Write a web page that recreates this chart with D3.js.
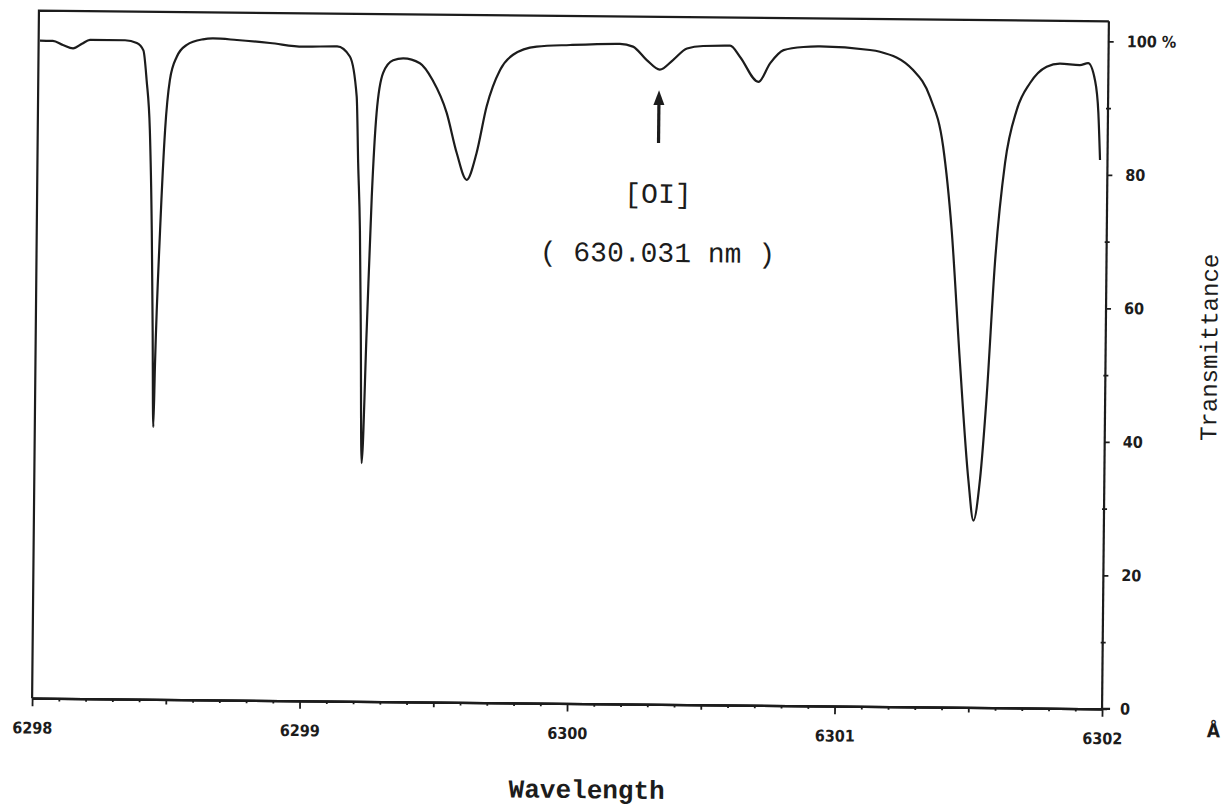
<!DOCTYPE html>
<html>
<head>
<meta charset="utf-8">
<script src="https://cdn.jsdelivr.net/npm/d3@7/dist/d3.min.js"></script>
<style>
  html, body { margin: 0; padding: 0; background: #fff; }
  svg { display: block; }
</style>
</head>
<body>
<script>
// ---- data ----
const wavelength = [
  6298.005, 6298.053, 6298.091, 6298.129, 6298.162, 6298.192, 6298.323, 6298.367, 6298.392, 6298.405,
  6298.419, 6298.430, 6298.437, 6298.443, 6298.447, 6298.461, 6298.476, 6298.492, 6298.517, 6298.554,
  6298.614, 6298.652, 6298.741, 6298.865, 6298.989, 6299.116, 6299.164, 6299.191, 6299.199, 6299.208,
  6299.215, 6299.223, 6299.237, 6299.251, 6299.266, 6299.289, 6299.326, 6299.364, 6299.426, 6299.474,
  6299.528, 6299.567, 6299.605, 6299.641, 6299.677, 6299.726, 6299.774, 6299.862, 6299.987, 6300.173,
  6300.222, 6300.274, 6300.323, 6300.372, 6300.424, 6300.484, 6300.585, 6300.622, 6300.692, 6300.735,
  6300.785, 6300.859, 6300.921, 6301.108, 6301.145, 6301.270, 6301.334, 6301.385, 6301.420, 6301.456,
  6301.492, 6301.512, 6301.535, 6301.557, 6301.583, 6301.617, 6301.659, 6301.707, 6301.769, 6301.819,
  6301.893, 6301.924, 6301.950, 6301.964, 6301.972
];
const transmittance = [
  98.5, 98.5, 97.9, 97.4, 98.1, 98.7, 98.7, 98.3, 97.2, 92.8,
  85.3, 70.2, 55.2, 40.8, 50.3, 70.3, 85.3, 92.8, 96.3, 98.1,
  98.95, 99.1, 98.9, 98.5, 98.0, 98.1, 96.6, 90.6, 80.6, 70.6,
  55.6, 35.7, 55.6, 75.6, 88.2, 94.2, 96.1, 96.4, 95.7, 93.2,
  88.3, 82.3, 78.3, 82.3, 89.3, 94.8, 97.1, 98.35, 98.65, 98.9,
  98.5, 96.5, 95.1, 96.55, 98.3, 98.7, 98.8, 97.15, 93.4, 96.2,
  98.2, 98.7, 98.8, 98.35, 98.1, 95.4, 91.4, 84.0, 71.5, 51.6,
  34.0, 28.0, 34.1, 46.6, 66.6, 81.6, 89.6, 93.6, 96.1, 96.6,
  96.4, 96.7, 94.2, 89.3, 82.2
];
const xMajorTicks = [6298, 6299, 6300, 6301, 6302];
const xTickLabels = ["6298", "6299", "6300", "6301", "6302"];
const yMajorTicks = [0, 20, 40, 60, 80, 100];
const yTickLabels = ["0", "20", "40", "60", "80", "100 %"];
const yMinorTicks = [10, 30, 50, 70, 90];
const lineLabel = "[OI]";
const lineSubLabel = "( 630.031 nm )";
const lineWavelength = 6300.321;
const arrowTip = 92.0, arrowHeadBase = 89.8, arrowTail = 84.1;

// ---- layout ----
const W = 1225, H = 809;
const L = 35.5, R = 1105.5, T = 16, B = 703.5;
const ink = "#1c1c1c";

const svg = d3.select("body").append("svg").attr("width", W).attr("height", H);
const g = svg.append("g").attr("transform", "rotate(0.57,571,359.5)");

const x = d3.scaleLinear().domain([6298, 6302]).range([L, R]);
const y = d3.scaleLinear().domain([0, 100]).range([B, 36]);

// frame: top and left borders
g.append("path")
  .attr("d", `M${L},${B} L${L},${T} L${R},${T}`)
  .attr("fill", "none").attr("stroke", ink).attr("stroke-width", 2.2);

// x axis (bottom)
const xMinor = d3.range(0, 41).map(i => 6298 + i * 0.1).filter(v => Math.abs(v - Math.round(v)) > 1e-6);
const xMid = xMinor.filter(v => Math.abs((v * 10) % 10 - 5) < 1e-3);
const xSmall = xMinor.filter(v => !xMid.includes(v));

const axB = g.append("g").attr("transform", `translate(0,${B})`);
axB.append("g").call(d3.axisBottom(x).tickValues(xSmall).tickSize(3).tickFormat("").tickSizeOuter(0));
axB.append("g").call(d3.axisBottom(x).tickValues(xMid).tickSize(5).tickFormat("").tickSizeOuter(0));
axB.append("g").call(d3.axisBottom(x).tickValues(xMajorTicks).tickSize(8).tickPadding(16)
  .tickFormat((d, i) => xTickLabels[i]).tickSizeOuter(0));
axB.selectAll(".domain").attr("stroke", ink).attr("stroke-width", 2.2);
axB.selectAll(".tick line").attr("stroke", ink).attr("stroke-width", 1.8);
axB.selectAll(".tick text")
  .attr("fill", ink)
  .attr("font-family", "'DejaVu Sans Condensed', 'DejaVu Sans', sans-serif")
  .attr("font-weight", "bold").attr("font-size", 16);
// axis line extends a little past the right axis
axB.append("line").attr("x1", R).attr("x2", R + 8).attr("y1", 0).attr("y2", 0)
  .attr("stroke", ink).attr("stroke-width", 2.2);

// y axis (right)
const axR = g.append("g").attr("transform", `translate(${R},0)`);
axR.append("g").call(d3.axisRight(y).tickValues(yMinorTicks).tickSize(3).tickFormat("").tickSizeOuter(0));
axR.append("g").call(d3.axisLeft(y).tickValues(yMinorTicks).tickSize(2).tickFormat("").tickSizeOuter(0));
axR.append("g").call(d3.axisRight(y).tickValues(yMajorTicks).tickSize(5).tickPadding(13)
  .tickFormat((d, i) => yTickLabels[i]).tickSizeOuter(0));
axR.selectAll(".domain").remove();
axR.append("line").attr("x1", 0).attr("x2", 0).attr("y1", T).attr("y2", B)
  .attr("stroke", ink).attr("stroke-width", 2.2);
axR.selectAll(".tick line").attr("stroke", ink).attr("stroke-width", 1.8);
axR.selectAll(".tick text")
  .attr("fill", ink)
  .attr("font-family", "'DejaVu Sans Condensed', 'DejaVu Sans', sans-serif")
  .attr("font-weight", "bold").attr("font-size", 16);

// spectrum
const pts = wavelength.map((w, i) => [w, transmittance[i]]);
g.append("path")
  .datum(pts)
  .attr("fill", "none").attr("stroke", ink).attr("stroke-width", 2.2)
  .attr("stroke-linejoin", "round")
  .attr("d", d3.line().x(d => x(d[0])).y(d => y(d[1])).curve(d3.curveMonotoneX));

// annotation arrow
const ax0 = x(lineWavelength);
g.append("line")
  .attr("x1", ax0).attr("x2", ax0).attr("y1", y(arrowTail)).attr("y2", y(arrowHeadBase) - 2)
  .attr("stroke", ink).attr("stroke-width", 3.2);
g.append("path")
  .attr("d", `M${ax0},${y(arrowTip)} L${ax0 - 5.5},${y(arrowHeadBase)} L${ax0 + 5.5},${y(arrowHeadBase)} Z`)
  .attr("fill", ink);

const mono = "'Liberation Mono', 'Courier New', monospace";
g.append("text").attr("x", ax0).attr("y", 202)
  .attr("text-anchor", "middle").attr("font-family", mono).attr("font-size", 28).attr("fill", ink)
  .text(lineLabel);
g.append("text").attr("x", ax0).attr("y", 261)
  .attr("text-anchor", "middle").attr("font-family", mono).attr("font-size", 28).attr("fill", ink)
  .attr("xml:space", "preserve").style("white-space", "pre")
  .text(lineSubLabel);

// axis titles
g.append("text").attr("x", 591).attr("y", 798)
  .attr("text-anchor", "middle").attr("font-family", mono).attr("font-weight", "bold")
  .attr("font-size", 26).attr("fill", ink).text("Wavelength");
g.append("text")
  .attr("transform", "translate(1217,341) rotate(-90)")
  .attr("text-anchor", "middle").attr("font-family", mono)
  .attr("font-size", 24).attr("fill", ink).text("Transmittance");
g.append("text").attr("x", 1217).attr("y", 731)
  .attr("text-anchor", "middle")
  .attr("font-family", "'DejaVu Sans Condensed', 'DejaVu Sans', sans-serif")
  .attr("font-weight", "bold").attr("font-size", 19).attr("fill", ink).text("Å");
</script>
</body>
</html>
